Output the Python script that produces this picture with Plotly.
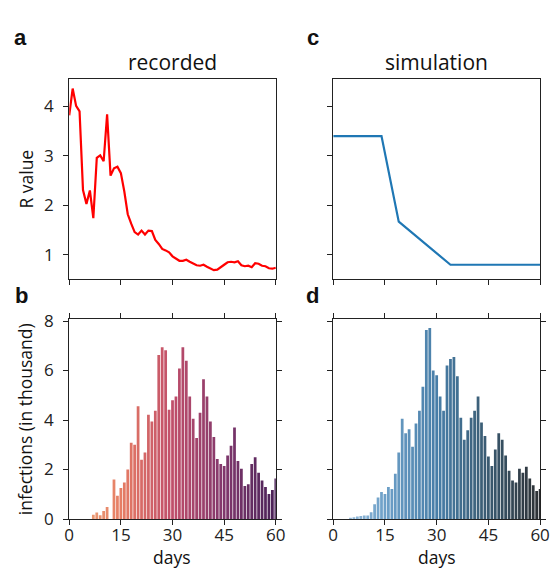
import plotly.graph_objects as go

# ---------------- data ----------------
days = list(range(61))

recorded_r = [3.82, 4.36, 4.01, 3.90, 2.31, 2.03, 2.30, 1.74, 2.96, 3.01,
              2.89, 3.84, 2.60, 2.75, 2.78, 2.65, 2.28, 1.82, 1.63, 1.46,
              1.41, 1.49, 1.41, 1.49, 1.48, 1.30, 1.22, 1.12, 1.09, 1.05,
              0.97, 0.92, 0.88, 0.88, 0.90, 0.86, 0.83, 0.79, 0.78, 0.80,
              0.76, 0.73, 0.69, 0.70, 0.76, 0.80, 0.85, 0.86, 0.85, 0.87,
              0.79, 0.77, 0.78, 0.75, 0.83, 0.82, 0.78, 0.77, 0.73, 0.72,
              0.74]

sim_days = [0, 14, 19, 34, 60]
sim_r = [3.4, 3.4, 1.67, 0.8, 0.8]

recorded_inf = [0, 0, 0, 0, 0, 0, 0, 0.17, 0.26, 0.15,
                0.32, 0.49, 0.0, 1.60, 0.94, 1.25, 1.48, 2.00, 3.08, 3.00,
                4.56, 2.39, 2.69, 4.21, 3.94, 4.37, 6.63, 6.94, 6.82, 4.41,
                4.80, 4.95, 6.08, 6.94, 6.39, 4.95, 4.05, 3.27, 4.29, 5.65,
                4.95, 3.94, 3.31, 2.42, 2.22, 2.14, 2.57, 2.96, 3.70, 2.34,
                2.03, 1.33, 1.40, 2.22, 2.50, 1.87, 1.56, 1.29, 1.01, 1.17,
                1.64]

sim_inf = [0, 0, 0, 0, 0, 0.05, 0.07, 0.10, 0.12, 0.14,
           0.14, 0.27, 0.60, 0.87, 1.09, 1.01, 1.29, 1.21, 1.83, 2.69,
           4.05, 3.47, 3.63, 2.92, 3.86, 4.37, 5.34, 7.64, 7.72, 6.00,
           5.81, 4.95, 4.37, 6.20, 6.47, 6.55, 5.77, 4.09, 3.20, 3.59,
           4.09, 4.37, 4.95, 3.90, 3.35, 2.53, 2.14, 2.81, 3.47, 3.20,
           2.57, 1.95, 1.56, 1.48, 2.03, 1.87, 2.11, 1.64, 1.36, 1.13,
           1.21]

x_ticks = [0, 15, 30, 45, 60]
r_ticks = [1, 2, 3, 4]
inf_ticks = [0, 2, 4, 6, 8]

# ---------------- colours ----------------
flare_anchors = [(237, 176, 129), (230, 125, 100), (192, 78, 106), (128, 55, 108), (74, 34, 88)]
blues_anchors = [(165, 198, 226), (110, 160, 200), (72, 126, 168), (58, 90, 112), (44, 47, 51)]


def ramp(anchors, n):
    out = []
    for i in range(n):
        t = i / (n - 1) * (len(anchors) - 1)
        k = min(int(t), len(anchors) - 2)
        f = t - k
        a, b = anchors[k], anchors[k + 1]
        c = [round(a[j] + (b[j] - a[j]) * f) for j in range(3)]
        out.append("rgb(%d,%d,%d)" % tuple(c))
    return out


left_colors = ramp(flare_anchors, len(days))
right_colors = ramp(blues_anchors, len(days))

# ---------------- figure ----------------
W, H = 558, 584


def px_x(a, b):
    return [a / W, b / W]


def px_y(top, bottom):
    return [(H - bottom) / H, (H - top) / H]


fig = go.Figure()

fig.add_trace(go.Scatter(x=days, y=recorded_r, mode="lines",
                         line=dict(color="#ff0000", width=2.2),
                         xaxis="x", yaxis="y", showlegend=False))
fig.add_trace(go.Scatter(x=sim_days, y=sim_r, mode="lines",
                         line=dict(color="#1f77b4", width=2.2),
                         xaxis="x2", yaxis="y2", showlegend=False))
fig.add_trace(go.Bar(x=days, y=recorded_inf, marker=dict(color=left_colors, line=dict(width=0)),
                     xaxis="x3", yaxis="y3", showlegend=False))
fig.add_trace(go.Bar(x=days, y=sim_inf, marker=dict(color=right_colors, line=dict(width=0)),
                     xaxis="x4", yaxis="y4", showlegend=False))

font_family = "Open Sans"
tick_font = dict(family=font_family, size=17, color="#222222")

common = dict(showgrid=False, zeroline=False, showline=True, linecolor="#222222",
              linewidth=1.3, ticks="outside", ticklen=5, tickwidth=1.3,
              tickcolor="#222222", tickfont=tick_font)
xcommon = dict(common, ticklabelstandoff=-5)
ycommon = dict(common, ticklabelstandoff=6)

xl = px_x(66, 278.3)
xr = px_x(337.3, 549.9)
yt = px_y(71.7, 279.3)
yb = px_y(320.3, 528)

fig.update_layout(
    width=W, height=H,
    margin=dict(l=0, r=0, t=0, b=0),
    paper_bgcolor="white", plot_bgcolor="white",
    bargap=0.2,
    font=dict(family=font_family, color="#222222"),
    xaxis=dict(domain=xl, anchor="y", range=[0, 60], tickvals=x_ticks,
               showticklabels=False, mirror=True, **xcommon),
    yaxis=dict(domain=yt, anchor="x", range=[0.507, 4.55], tickvals=r_ticks,
               mirror=True, **ycommon),
    xaxis2=dict(domain=xr, anchor="y2", range=[0, 60], tickvals=x_ticks,
                showticklabels=False, mirror=True, **xcommon),
    yaxis2=dict(domain=yt, anchor="x2", range=[0.507, 4.55], tickvals=r_ticks,
                showticklabels=False, mirror=True, **ycommon),
    xaxis3=dict(domain=xl, anchor="y3", range=[0, 60], tickvals=x_ticks,
                mirror="allticks", **xcommon),
    yaxis3=dict(domain=yb, anchor="x3", range=[0, 8.09], tickvals=inf_ticks,
                mirror="allticks", **ycommon),
    xaxis4=dict(domain=xr, anchor="y4", range=[0, 60], tickvals=x_ticks,
                mirror="allticks", **xcommon),
    yaxis4=dict(domain=yb, anchor="x4", range=[0, 8.09], tickvals=inf_ticks,
                showticklabels=False, mirror="allticks", **ycommon),
)

ann = []


def text(s, x, y, size, bold=False, angle=0, family=font_family):
    ann.append(dict(text=("<b>%s</b>" % s) if bold else s, x=x / W, y=(H - y) / H,
                    xref="paper", yref="paper", showarrow=False, textangle=angle,
                    font=dict(family=family, size=size, color="#111111"),
                    xanchor="center", yanchor="middle"))


text("recorded", 172, 54, 21)
text("simulation", 443.6, 54, 21)
text("a", 16, 29, 22, bold=True, family="Liberation Sans")
text("c", 316, 29, 22, bold=True, family="Liberation Sans")
text("b", 17, 296, 22, bold=True, family="Liberation Sans")
text("d", 316, 296, 22, bold=True, family="Liberation Sans")
text("R value", 22, 175.5, 17.5, angle=-90)
text("infections (in thousand)", 20, 424, 17.5, angle=-90)
text("days", 172, 567, 17.5)
text("days", 443.6, 567, 17.5)

fig.update_layout(annotations=ann)

fig.write_html("out.html",
               config={"displayModeBar": False},
               post_script="document.body.style.margin='0px';document.body.style.overflow='hidden';")
